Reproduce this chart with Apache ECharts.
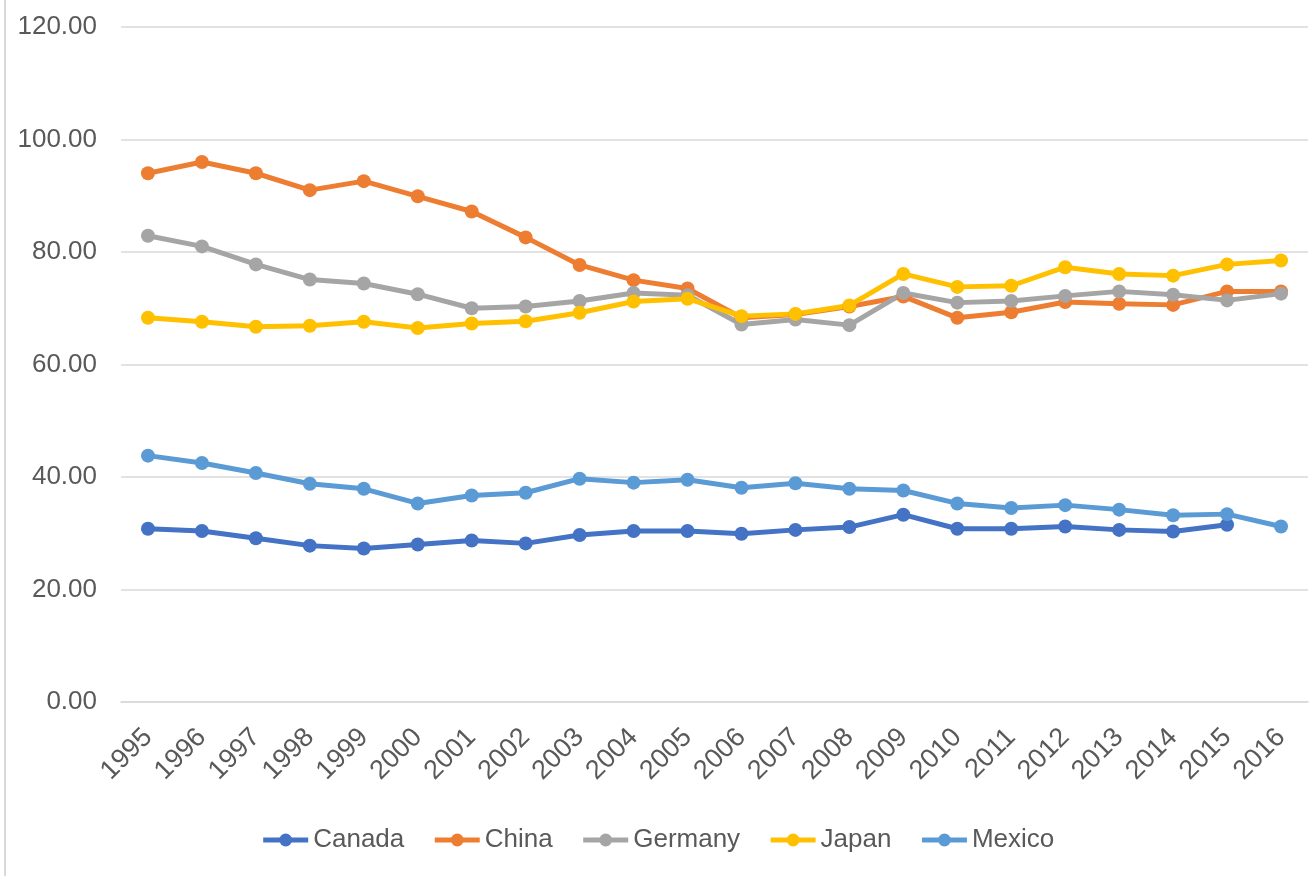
<!DOCTYPE html>
<html>
<head>
<meta charset="utf-8">
<script src="https://cdn.jsdelivr.net/npm/echarts@6/dist/echarts.min.js"></script>
<style>
html,body{margin:0;padding:0;background:#fff;}
#chart{width:1315px;height:876px;}
</style>
</head>
<body>
<div id="chart"></div>
<script>
const years = ['1995','1996','1997','1998','1999','2000','2001','2002','2003','2004','2005','2006','2007','2008','2009','2010','2011','2012','2013','2014','2015','2016'];
const canada  = [30.8,30.4,29.1,27.8,27.3,28.0,28.7,28.2,29.7,30.4,30.4,29.9,30.6,31.1,33.3,30.8,30.8,31.2,30.6,30.3,31.5,null];
const china   = [94.0,96.0,94.0,91.0,92.6,89.9,87.2,82.6,77.7,75.0,73.5,68.3,68.9,70.3,72.1,68.3,69.3,71.1,70.8,70.6,73.0,73.0];
const germany = [82.9,81.0,77.8,75.1,74.4,72.5,70.0,70.3,71.3,72.7,72.3,67.1,68.0,67.0,72.7,71.0,71.3,72.2,73.0,72.4,71.4,72.6];
const japan   = [68.3,67.6,66.7,66.9,67.6,66.5,67.3,67.7,69.2,71.2,71.7,68.6,69.0,70.5,76.1,73.8,74.0,77.3,76.1,75.8,77.8,78.5];
const mexico  = [43.8,42.5,40.7,38.8,37.9,35.3,36.7,37.2,39.7,39.0,39.5,38.1,38.9,37.9,37.6,35.3,34.5,35.0,34.2,33.2,33.4,31.2];
const seriesNames = ['Canada','China','Germany','Japan','Mexico'];
const seriesData = [canada, china, germany, japan, mexico];
const colors = ['#4472C4','#ED7D31','#A5A5A5','#FFC000','#5B9BD5'];

const chart = echarts.init(document.getElementById('chart'), null, {renderer:'canvas'});
const font = '"Liberation Sans", Arial, sans-serif';
chart.setOption({
  animation:false,
  backgroundColor:'#fff',
  color: colors,
  grid:{left:121, right:7, top:27, bottom:174, containLabel:false},
  legend:{
    top:822, left:'center',
    itemWidth:45, itemHeight:16, itemGap:28,
    lineStyle:{width:5},
    textStyle:{color:'#595959', fontSize:26, fontFamily:font},
    data: seriesNames
  },
  xAxis:{
    type:'category', data:years, boundaryGap:true,
    axisLine:{show:true, lineStyle:{color:'#d9d9d9', width:1.5}},
    axisTick:{show:false},
    axisLabel:{rotate:45, color:'#595959', fontSize:27, fontFamily:font, margin:31, interval:0}
  },
  yAxis:{
    type:'value', min:0, max:120, interval:20,
    axisLine:{show:false}, axisTick:{show:false},
    splitLine:{lineStyle:{color:'#d9d9d9', width:1.5}},
    axisLabel:{color:'#595959', fontSize:26, fontFamily:font, margin:24, formatter:v=>v.toFixed(2)}
  },
  graphic:[{type:'line', shape:{x1:5,y1:0,x2:5,y2:876}, style:{stroke:'#d9d9d9', lineWidth:2}}],
  series: seriesNames.map((n,i)=>({
    name:n, type:'line', data:seriesData[i],
    symbol:'circle', symbolSize:14,
    lineStyle:{width:5, color:colors[i]},
    itemStyle:{color:colors[i]},
    connectNulls:false
  }))
});
</script>
</body>
</html>
